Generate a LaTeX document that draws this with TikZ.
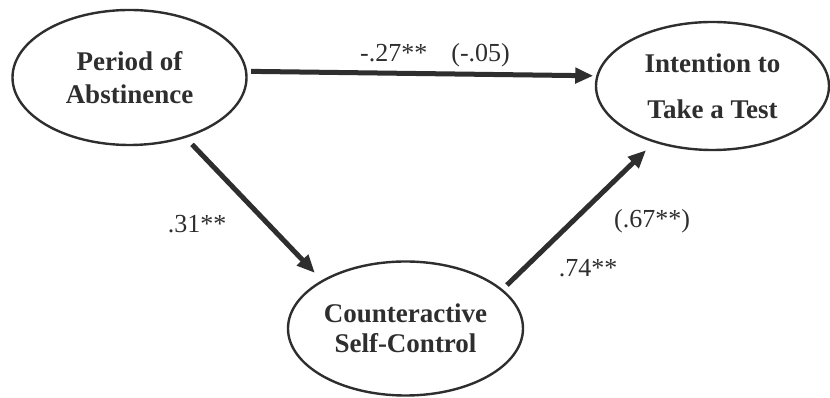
\documentclass[tikz,border=0pt]{standalone}
\usepackage{fontspec}
\setmainfont{Liberation Serif}
\usetikzlibrary{shapes.geometric,arrows.meta}
\definecolor{ink}{HTML}{2E2E2E}

\begin{document}
\begin{tikzpicture}[x=1pt, y=1pt,
  var/.style={ellipse, draw=ink, line width=2.4pt, text=ink, inner sep=0pt, align=center,
    font=\fontsize{27}{33}\selectfont\bfseries},
  effect/.style={draw=ink, line width=5pt, -{Triangle[length=18pt,width=15pt]}},
  coef/.style={text=ink, font=\fontsize{26}{30}\selectfont}]
  \useasboundingbox (0,0) rectangle (830,398);
  \node [var, minimum width=234pt, minimum height=135pt] at (129.5, 320.5) (abst) {Period of\\Abstinence};
  \node [var, minimum width=233pt, minimum height=128pt] at (712.5, 312) (intent) {Intention to\\[13pt]Take a Test};
  \node [var, minimum width=235pt, minimum height=134pt] at (405.5, 69.5) (ctrl) {Counteractive\\[-3pt]Self-Control};
  \node [coef] at (435, 343) (c1) {-.27**\hspace{24pt}(-.05)};
  \node [coef] at (197, 174) (c2) {.31**};
  \node [coef] at (652, 177) (c3) {(.67**)};
  \node [coef] at (588, 130) (c4) {.74**};
  \draw [effect, shorten <=4pt, shorten >=3pt] (abst.3) -- (intent.175);
  \draw [effect, shorten <=9pt, shorten >=10pt] (abst.-47) -- (ctrl.150);
  \draw [effect, shorten <=6pt, shorten >=11pt] (ctrl.22) -- (intent.224);
\end{tikzpicture}
\end{document}
